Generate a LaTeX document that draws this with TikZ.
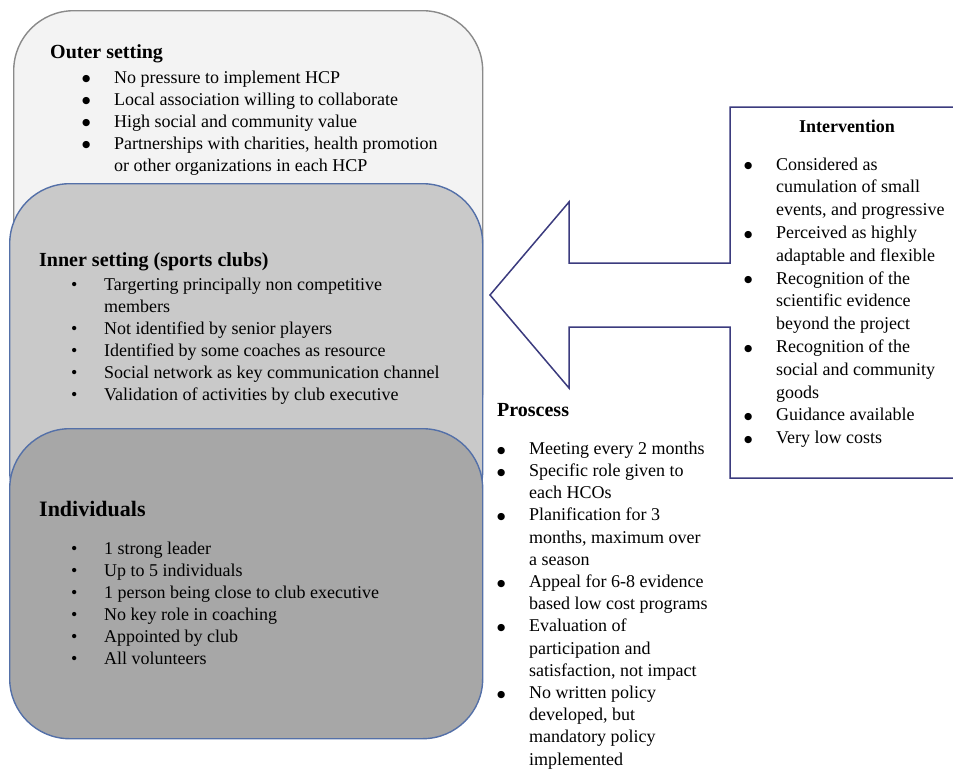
\documentclass[tikz,border=0pt]{standalone}
\usepackage{fontspec}
\setmainfont{Liberation Serif}
\newfontfamily\dejavu{DejaVu Sans}
\definecolor{outerfill}{HTML}{F3F3F3}
\definecolor{outerline}{HTML}{8A8A8A}
\definecolor{innerfill}{HTML}{C9C9C9}
\definecolor{indivfill}{HTML}{A7A7A7}
\definecolor{boxblue}{HTML}{5470A8}
\definecolor{arrownavy}{HTML}{3B3B7E}
\newcommand{\bigb}{\raisebox{1.2pt}{\dejavu\fontsize{9.5}{10}\selectfont ●}}
\newcommand{\smallb}{\textbullet}
\newcommand{\lt}{\fontsize{18}{22}\selectfont}
\newcommand{\rt}{\fontsize{18}{22.8}\selectfont}
\newcommand{\pt}{\fontsize{18}{22.2}\selectfont}
\begin{document}
\begin{tikzpicture}[x=1pt,y=-1pt,
  layerbox/.style={rectangle, rounded corners=60pt, anchor=north west, line width=1.4pt, inner sep=0pt},
  txt/.style={inner sep=0pt, anchor=base west, align=left}]
\useasboundingbox (0,0) rectangle (953,777);
% layered boxes
\node[layerbox, draw=outerline, fill=outerfill, minimum width=469pt, minimum height=440pt] (outer) at (13,10) {};
\node[layerbox, draw=boxblue, fill=innerfill, minimum width=473pt, minimum height=347pt] (inner) at (9,183) {};
\node[layerbox, draw=boxblue, fill=indivfill, minimum width=473pt, minimum height=310pt] (indiv) at (9,428) {};
% arrow + intervention box outline
\draw[arrownavy, line width=1.5pt, line join=miter]
  (960,107) -- (730,107) -- (730,263) -- (569,263) -- (569,202) -- (490,295)
  -- (569,388) -- (569,327) -- (730,327) -- (730,478) -- (960,478);
% outer setting text
\node[txt] (outertxt) at (50,58) {\lt\begin{tabular}[t]{@{}l@{}l@{}}
\multicolumn{2}{@{}l@{}}{\fontsize{20}{22}\selectfont\textbf{Outer setting}}\\[3pt]
\makebox[64pt][l]{\hspace{32pt}\bigb} & No pressure to implement HCP\\
\makebox[64pt][l]{\hspace{32pt}\bigb} & Local association willing to collaborate\\
\makebox[64pt][l]{\hspace{32pt}\bigb} & High social and community value\\
\makebox[64pt][l]{\hspace{32pt}\bigb} & Partnerships with charities, health promotion\\
 & or other organizations in each HCP
\end{tabular}};
% inner setting text
\node[txt] (innertxt) at (39,266) {\lt\begin{tabular}[t]{@{}l@{}l@{}}
\multicolumn{2}{@{}l@{}}{\fontsize{20}{22}\selectfont\textbf{Inner setting (sports clubs)}}\\[2pt]
\makebox[65pt][l]{\hspace{32pt}\smallb} & Targerting principally non competitive\\
 & members\\
\makebox[65pt][l]{\hspace{32pt}\smallb} & Not identified by senior players\\
\makebox[65pt][l]{\hspace{32pt}\smallb} & Identified by some coaches as resource\\
\makebox[65pt][l]{\hspace{32pt}\smallb} & Social network as key communication channel\\
\makebox[65pt][l]{\hspace{32pt}\smallb} & Validation of activities by club executive
\end{tabular}};
% individuals text
\node[txt] (indivtxt) at (39,516) {\lt\begin{tabular}[t]{@{}l@{}l@{}}
\multicolumn{2}{@{}l@{}}{\fontsize{22}{22}\selectfont\textbf{Individuals}}\\[16pt]
\makebox[65pt][l]{\hspace{32pt}\smallb} & 1 strong leader\\
\makebox[65pt][l]{\hspace{32pt}\smallb} & Up to 5 individuals\\
\makebox[65pt][l]{\hspace{32pt}\smallb} & 1 person being close to club executive\\
\makebox[65pt][l]{\hspace{32pt}\smallb} & No key role in coaching\\
\makebox[65pt][l]{\hspace{32pt}\smallb} & Appointed by club\\
\makebox[65pt][l]{\hspace{32pt}\smallb} & All volunteers
\end{tabular}};
% intervention text
\node[inner sep=0pt, anchor=base] (intvtitle) at (847,132) {\fontsize{18}{18}\selectfont\textbf{Intervention}};
\node[txt] (intvtxt) at (744,170) {\rt\begin{tabular}[t]{@{}l@{}l@{}}
\makebox[32pt][l]{\bigb} & Considered as\\
 & cumulation of small\\
 & events, and progressive\\
\makebox[32pt][l]{\bigb} & Perceived as highly\\
 & adaptable and flexible\\
\makebox[32pt][l]{\bigb} & Recognition of the\\
 & scientific evidence\\
 & beyond the project\\
\makebox[32pt][l]{\bigb} & Recognition of the\\
 & social and community\\
 & goods\\
\makebox[32pt][l]{\bigb} & Guidance available\\
\makebox[32pt][l]{\bigb} & Very low costs
\end{tabular}};
% process text
\node[txt] (proctxt) at (497,416) {\pt\begin{tabular}[t]{@{}l@{}l@{}}
\multicolumn{2}{@{}l@{}}{\fontsize{20}{22}\selectfont\textbf{Proscess}}\\[16pt]
\makebox[32pt][l]{\bigb} & Meeting every 2 months\\
\makebox[32pt][l]{\bigb} & Specific role given to\\
 & each HCOs\\
\makebox[32pt][l]{\bigb} & Planification for 3\\
 & months, maximum over\\
 & a season\\
\makebox[32pt][l]{\bigb} & Appeal for 6-8 evidence\\
 & based low cost programs\\
\makebox[32pt][l]{\bigb} & Evaluation of\\
 & participation and\\
 & satisfaction, not impact\\
\makebox[32pt][l]{\bigb} & No written policy\\
 & developed, but\\
 & mandatory policy\\
 & implemented
\end{tabular}};
\end{tikzpicture}
\end{document}
